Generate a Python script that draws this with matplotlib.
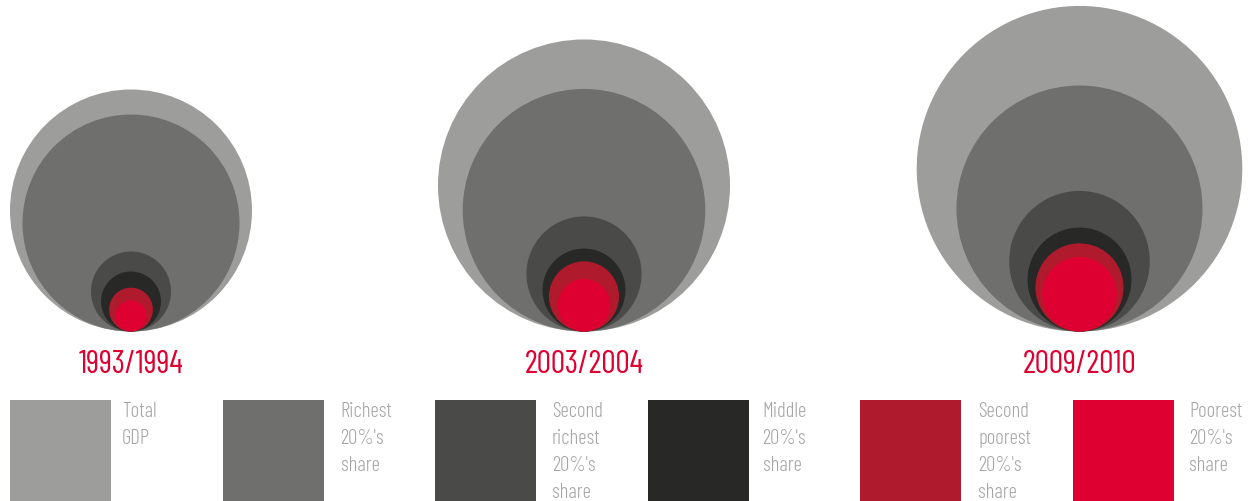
import numpy as np
import matplotlib
matplotlib.use("Agg")
import matplotlib.pyplot as plt
from matplotlib.patches import Circle, Rectangle

# ---- data (circle areas, arbitrary units; areas of shares add up to total) ----
periods = ["1993/1994", "2003/2004", "2009/2010"]
total_gdp = [146.4, 213.2, 265.0]
richest = [117.7, 147.1, 151.3]
second_richest = [16.0, 33.1, 49.4]
middle = [9.0, 17.2, 27.0]
second_poorest = [4.8, 12.3, 19.4]
poorest = [2.4, 6.9, 13.9]

series_labels = ["Total\nGDP", "Richest\n20%'s\nshare", "Second\nrichest\n20%'s\nshare",
                 "Middle\n20%'s\nshare", "Second\npoorest\n20%'s\nshare", "Poorest\n20%'s\nshare"]
colors = ["#9d9d9c", "#6f6f6e", "#4a4a49", "#282826", "#b01a2d", "#de0030"]

W, H = 1254, 502
fig = plt.figure(figsize=(W / 100, H / 100), dpi=100)
ax = fig.add_axes([0, 0, 1, 1])
ax.set_xlim(0, W)
ax.set_ylim(H, 0)
ax.axis("off")

font = ["Barlow Condensed", "Fira Sans Extra Condensed", "Oswald", "Abel", "DejaVu Sans"]

centers_x = [131, 584, 1079.5]
baseline = 332.5
scale = 10.0  # radius = sqrt(area) * scale

all_series = [total_gdp, richest, second_richest, middle, second_poorest, poorest]
for i, cx in enumerate(centers_x):
    for s, col in zip(all_series, colors):
        r = np.sqrt(s[i]) * scale
        ax.add_patch(Circle((cx, baseline - r), r, facecolor=col, edgecolor="none"))
    ax.text(cx, 373, periods[i], ha="center", va="baseline", color="#de0030",
            fontsize=23, family=font, weight=400)

# ---- legend ----
sw_x0, sw_dx, sw_w, sw_y = 10, 212.5, 101, 401
text_offsets = [112, 118, 117, 115, 118, 117]
for k, (lab, col) in enumerate(zip(series_labels, colors)):
    x = sw_x0 + k * sw_dx
    ax.add_patch(Rectangle((x, sw_y), sw_w, 110, facecolor=col, edgecolor="none"))
    for j, line in enumerate(lab.split("\n")):
        ax.text(x + text_offsets[k], 417 + 27 * j, line, ha="left", va="baseline",
                color="#a6a6a6", fontsize=15, family=font, weight=300)

fig.savefig("out.png", dpi=100)
